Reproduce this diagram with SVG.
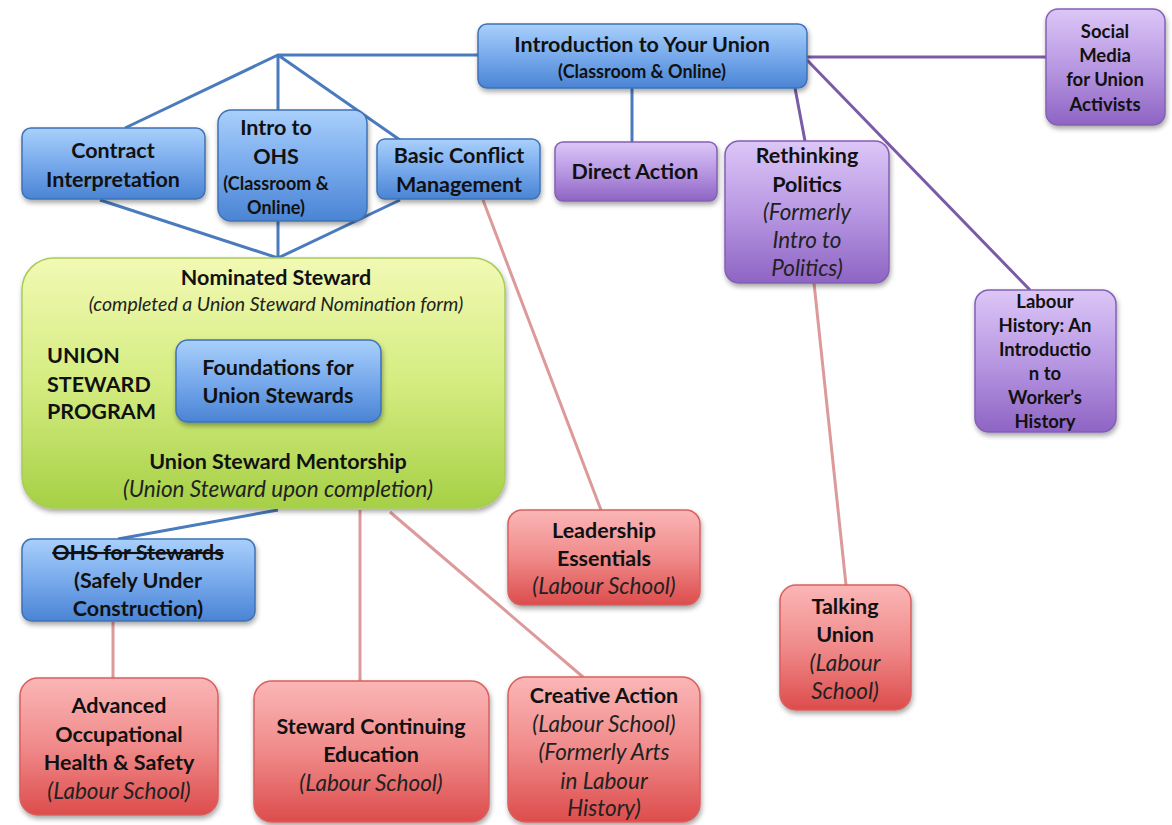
<svg xmlns="http://www.w3.org/2000/svg" width="1172" height="825" viewBox="0 0 1172 825">
<defs>
<linearGradient id="gb" x1="0" y1="0" x2="0" y2="1"><stop offset="0" stop-color="#a9d0fb"/><stop offset="0.5" stop-color="#78aaec"/><stop offset="1" stop-color="#4a84d4"/></linearGradient>
<linearGradient id="gp" x1="0" y1="0" x2="0" y2="1"><stop offset="0" stop-color="#dcc6f7"/><stop offset="0.5" stop-color="#b898e2"/><stop offset="1" stop-color="#8e64c4"/></linearGradient>
<linearGradient id="gr" x1="0" y1="0" x2="0" y2="1"><stop offset="0" stop-color="#fbb6b6"/><stop offset="0.5" stop-color="#f08a8a"/><stop offset="1" stop-color="#dd4c4c"/></linearGradient>
<linearGradient id="gg" x1="0" y1="0" x2="0" y2="1"><stop offset="0" stop-color="#f2f9b4"/><stop offset="0.5" stop-color="#d4ec80"/><stop offset="1" stop-color="#a6d046"/></linearGradient>
<filter id="sh" x="-10%" y="-10%" width="120%" height="130%"><feDropShadow dx="1" dy="3" stdDeviation="2.5" flood-color="#000" flood-opacity="0.35"/></filter>
</defs>
<style>
.b{fill:url(#gb);stroke:#3f72b5;stroke-width:1.5;filter:url(#sh)}
.p{fill:url(#gp);stroke:#8460b4;stroke-width:1.5;filter:url(#sh)}
.r{fill:url(#gr);stroke:#d95f5f;stroke-width:1.5;filter:url(#sh)}
.g{fill:url(#gg);stroke:#a8cc55;stroke-width:1.5;filter:url(#sh)}
text{font-family:Lato,"Open Sans","Liberation Sans",sans-serif;fill:#111;text-anchor:middle}
.t{font-size:21.5px;font-weight:bold}
.s{font-size:18px;font-weight:bold}
.m{font-size:18.5px;font-weight:bold}
.i{font-size:22.5px;font-style:italic;fill:#222}
.cb{stroke:#4a7bbd;stroke-width:3;fill:none}
.cp{stroke:#7c5aa8;stroke-width:3;fill:none}
.cr{stroke:#dc9a9a;stroke-width:3;fill:none}
</style>
<rect width="1172" height="825" fill="#fff"/>
<g id="connectors">
<path class="cb" d="M478 55 H278 L125 128 M278 55 V110 M278 55 L400 140"/>
<path class="cb" d="M100 200 L278 258 L400 200 M278 221 V258"/>
<path class="cb" d="M632 88 V142"/>
<path class="cp" d="M807 57 H1046 M795 88 L805 141 M807 60 L1030 290"/>
<path class="cb" d="M280 323 V340 M279 422 V440"/>
<path class="cb" d="M278 510 L118 539"/>
<path class="cr" d="M113 622 V678 M360 510 V681 M390 512 L583 677 M483 200 L601 510 M814 283 L846 585"/>
</g>
<g id="intro-union"><rect class="b" x="478" y="24" width="329" height="64" rx="9"/><text class="t" x="642" y="52">Introduction to Your Union</text><text class="s" x="642" y="78">(Classroom &amp; Online)</text></g>
<g id="social-media"><rect class="p" x="1046" y="9" width="119" height="116" rx="12"/><text class="m" x="1105" y="38">Social</text><text class="m" x="1105" y="62">Media</text><text class="m" x="1105" y="86">for Union</text><text class="m" x="1105" y="111">Activists</text></g>
<g id="direct-action"><rect class="p" x="555" y="142" width="162" height="59" rx="8"/><text class="t" x="635" y="179">Direct Action</text></g>
<g id="rethinking-politics"><rect class="p" x="725" y="141" width="164" height="142" rx="14"/><text class="t" x="807" y="163">Rethinking</text><text class="t" x="807" y="192">Politics</text><text class="i" x="807" y="220">(Formerly</text><text class="i" x="807" y="248">Intro to</text><text class="i" x="807" y="276">Politics)</text></g>
<g id="labour-history"><rect class="p" x="975" y="290" width="141" height="142" rx="14"/><text class="m" x="1045" y="308">Labour</text><text class="m" x="1045" y="332">History: An</text><text class="m" x="1045" y="356">Introductio</text><text class="m" x="1045" y="380">n to</text><text class="m" x="1045" y="404">Worker’s</text><text class="m" x="1045" y="428">History</text></g>
<g id="contract"><rect class="b" x="22" y="128" width="183" height="71" rx="9"/><text class="t" x="113" y="158">Contract</text><text class="t" x="113" y="187">Interpretation</text></g>
<g id="intro-ohs"><rect class="b" x="218" y="110" width="149" height="111" rx="13"/><text class="t" x="276" y="135">Intro to</text><text class="t" x="276" y="164">OHS</text><text class="s" x="276" y="190">(Classroom &amp;</text><text class="s" x="276" y="214">Online)</text></g>
<g id="basic-conflict"><rect class="b" x="377" y="139" width="163" height="60" rx="8"/><text class="t" x="459" y="163">Basic Conflict</text><text class="t" x="459" y="192">Management</text></g>
<g id="steward-program"><rect class="g" x="22" y="258" width="483" height="250" rx="32"/>
<text class="t" x="276" y="285">Nominated Steward</text>
<text class="i" x="276" y="311" style="font-size:19.5px">(completed a Union Steward  Nomination form)</text>
<text class="t" x="47" y="363" style="text-anchor:start">UNION</text><text class="t" x="47" y="392" style="text-anchor:start">STEWARD</text><text class="t" x="47" y="419" style="text-anchor:start">PROGRAM</text>
<text class="t" x="278" y="469">Union Steward Mentorship</text>
<text class="i" x="278" y="497">(Union Steward upon completion)</text></g>
<g id="foundations"><rect class="b" x="176" y="340" width="205" height="82" rx="12"/><text class="t" x="278" y="375">Foundations for</text><text class="t" x="278" y="403">Union Stewards</text></g>
<g id="ohs-stewards"><rect class="b" x="22" y="539" width="233" height="82" rx="10"/><text class="t" x="138" y="560" text-decoration="line-through">OHS for Stewards</text><text class="t" x="138" y="588">(Safely Under</text><text class="t" x="138" y="616">Construction)</text></g>
<g id="advanced-ohs"><rect class="r" x="20" y="678" width="198" height="137" rx="18"/><text class="t" x="119" y="713">Advanced</text><text class="t" x="119" y="742">Occupational</text><text class="t" x="119" y="770">Health &amp; Safety</text><text class="i" x="119" y="799">(Labour School)</text></g>
<g id="continuing-ed"><rect class="r" x="254" y="681" width="235" height="141" rx="18"/><text class="t" x="371" y="734">Steward Continuing</text><text class="t" x="371" y="762">Education</text><text class="i" x="371" y="791">(Labour School)</text></g>
<g id="creative-action"><rect class="r" x="508" y="677" width="192" height="145" rx="18"/><text class="t" x="604" y="703">Creative Action</text><text class="i" x="604" y="732">(Labour School)</text><text class="i" x="604" y="760">(Formerly Arts</text><text class="i" x="604" y="789">in Labour</text><text class="i" x="604" y="816">History)</text></g>
<g id="leadership"><rect class="r" x="508" y="510" width="192" height="95" rx="14"/><text class="t" x="604" y="538">Leadership</text><text class="t" x="604" y="566">Essentials</text><text class="i" x="604" y="594">(Labour School)</text></g>
<g id="talking-union"><rect class="r" x="780" y="585" width="131" height="125" rx="16"/><text class="t" x="845" y="614">Talking</text><text class="t" x="845" y="642">Union</text><text class="i" x="845" y="671">(Labour</text><text class="i" x="845" y="699">School)</text></g>
</svg>
